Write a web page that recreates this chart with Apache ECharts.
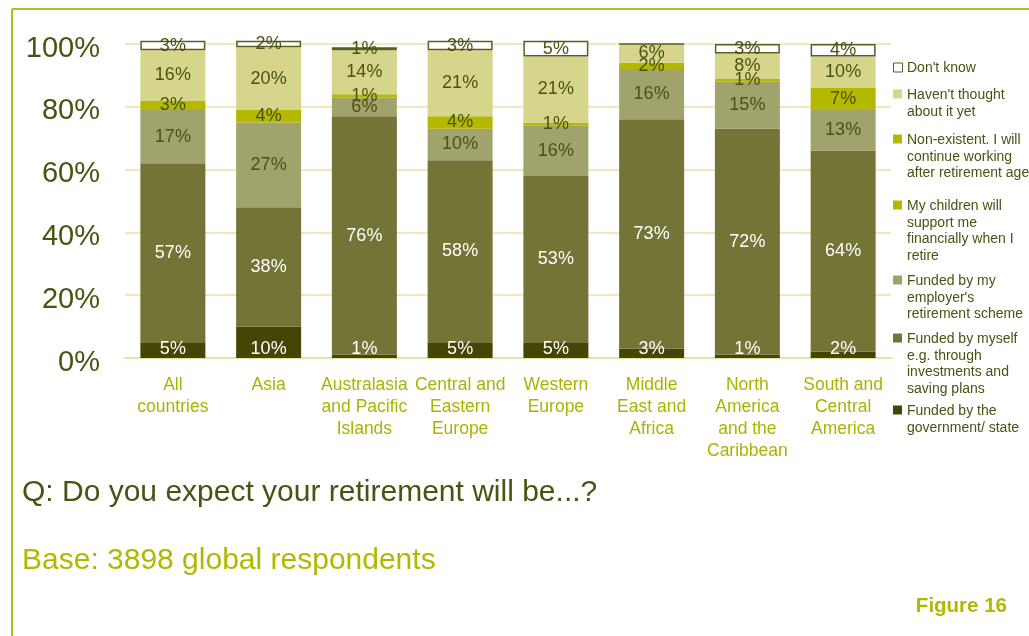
<!DOCTYPE html>
<html>
<head>
<meta charset="utf-8">
<script src="https://cdn.jsdelivr.net/npm/echarts@6/dist/echarts.min.js"></script>
<style>
html,body{margin:0;padding:0;background:#fff;}
#chart{width:1029px;height:636px;}
</style>
</head>
<body>
<div id="chart"></div>
<script>
// ---- data ----
var categories = ["All\ncountries", "Asia", "Australasia\nand Pacific\nIslands", "Central and\nEastern\nEurope", "Western\nEurope", "Middle\nEast and\nAfrica", "North\nAmerica\nand the\nCaribbean", "South and\nCentral\nAmerica"];
var government  = [5, 10, 1, 5, 5, 3, 1, 2];
var myself      = [57, 38, 76, 58, 53, 73, 72, 64];
var employer    = [17, 27, 6, 10, 16, 16, 15, 13];
var children    = [0, 0, 0, 0, 0, 0, 0, 0];
var nonExistent = [3, 4, 1, 4, 1, 2, 1, 7];
var notThought  = [16, 20, 14, 21, 21, 6, 8, 10];
var dontKnow    = [3, 2, 1, 3, 5, 0, 3, 4];
var yTicks = [0, 20, 40, 60, 80, 100];
var seriesNames = ["Funded by the government/ state", "Funded by myself e.g. through investments and saving plans", "Funded by my employer's retirement scheme", "My children will support me financially when I retire", "Non-existent. I will continue working after retirement age", "Haven't thought about it yet", "Don't know"];
var legendLabels = ["Don't know", "Haven't thought\nabout it yet", "Non-existent. I will\ncontinue working\nafter retirement age", "My children will\nsupport me\nfinancially when I\nretire", "Funded by my\nemployer's\nretirement scheme", "Funded by myself\ne.g. through\ninvestments and\nsaving plans", "Funded by the\ngovernment/ state"];
var titleText = "Q: Do you expect your retirement will be...?";
var baseText = "Base: 3898 global respondents";
var figureText = "Figure 16";

// ---- styles ----
var DARK = '#4b5212';
var LIME = '#b1b800';
var colors = ['#454604', '#737435', '#a0a36c', '#b4b800', '#b4b800', '#d5d68c', '#ffffff'];
var values = [government, myself, employer, children, nonExistent, notThought, dontKnow];
var labelColors = ['#ffffff', '#ffffff', DARK, DARK, DARK, DARK, DARK];

var FONT = '"Liberation Sans", Arial, sans-serif';

var series = values.map(function (arr, i) {
  var s = {
    name: seriesNames[i],
    type: 'bar',
    stack: 'total',
    data: arr,
    barWidth: 65,
    clip: false,
    itemStyle: { color: colors[i] },
    label: {
      show: true,
      position: i === 0 ? 'insideBottom' : 'inside',
      distance: 0,
      color: labelColors[i],
      fontFamily: FONT,
      fontSize: 18,
      formatter: function (p) { return p.value > 0 ? p.value + '%' : ''; }
    }
  };
  if (i === 6) {
    s.itemStyle = { color: '#ffffff', borderColor: '#5a5d1e', borderWidth: 1.5 };
  }
  return s;
});

// legend drawn as graphic (icon aligned to first line)
var legendTops = [59, 86, 131, 197, 272, 330, 402];
var legendOrder = [6, 5, 4, 3, 2, 1, 0];
var graphics = [];
legendOrder.forEach(function (si, k) {
  var top = legendTops[k];
  graphics.push({
    type: 'rect', left: 893, top: top + 3.5,
    shape: { width: 9, height: 9 },
    style: si === 6 ? { fill: '#fff', stroke: '#5a5d1e', lineWidth: 1 } : { fill: colors[si] }
  });
  graphics.push({
    type: 'text', left: 907, top: top + 0.5,
    style: { text: legendLabels[k], font: '14px ' + FONT, fill: DARK, lineHeight: 16.8 }
  });
});
// frame
graphics.push({ type: 'line', shape: { x1: 12, y1: 9, x2: 1029, y2: 9 }, style: { stroke: '#b5bb22', lineWidth: 2 } });
graphics.push({ type: 'line', shape: { x1: 12, y1: 9, x2: 12, y2: 636 }, style: { stroke: '#b5bb22', lineWidth: 2 } });
// texts
graphics.push({ type: 'text', left: 22, top: 478, style: { text: titleText, font: '30px ' + FONT, fill: DARK } });
graphics.push({ type: 'text', left: 22, top: 546, style: { text: baseText, font: '30px ' + FONT, fill: LIME } });
graphics.push({ type: 'text', right: 22, top: 596, style: { text: figureText, font: 'bold 20.5px ' + FONT, fill: LIME } });

var chart = echarts.init(document.getElementById('chart'), null, { renderer: 'canvas' });
chart.setOption({
  animation: false,
  backgroundColor: '#ffffff',
  grid: { left: 125, right: 138, top: 44, bottom: 278, containLabel: false },
  xAxis: {
    type: 'category',
    data: categories,
    axisLine: { show: true, lineStyle: { color: '#e2e5a8', width: 2 } },
    axisTick: { show: false },
    axisLabel: { color: '#aab400', fontFamily: FONT, fontSize: 17.5, lineHeight: 22, margin: 16, interval: 0 }
  },
  yAxis: {
    type: 'value',
    min: yTicks[0], max: yTicks[yTicks.length - 1], interval: 20,
    axisLine: { show: false },
    axisTick: { show: false },
    splitLine: { show: true, lineStyle: { color: '#e2e5a8', width: 1.5 } },
    axisLabel: { color: DARK, fontFamily: FONT, fontSize: 29, margin: 25, verticalAlign: 'top', lineHeight: 9, formatter: '{value}%' }
  },
  legend: { show: false },
  series: series,
  graphic: graphics
});
</script>
</body>
</html>
